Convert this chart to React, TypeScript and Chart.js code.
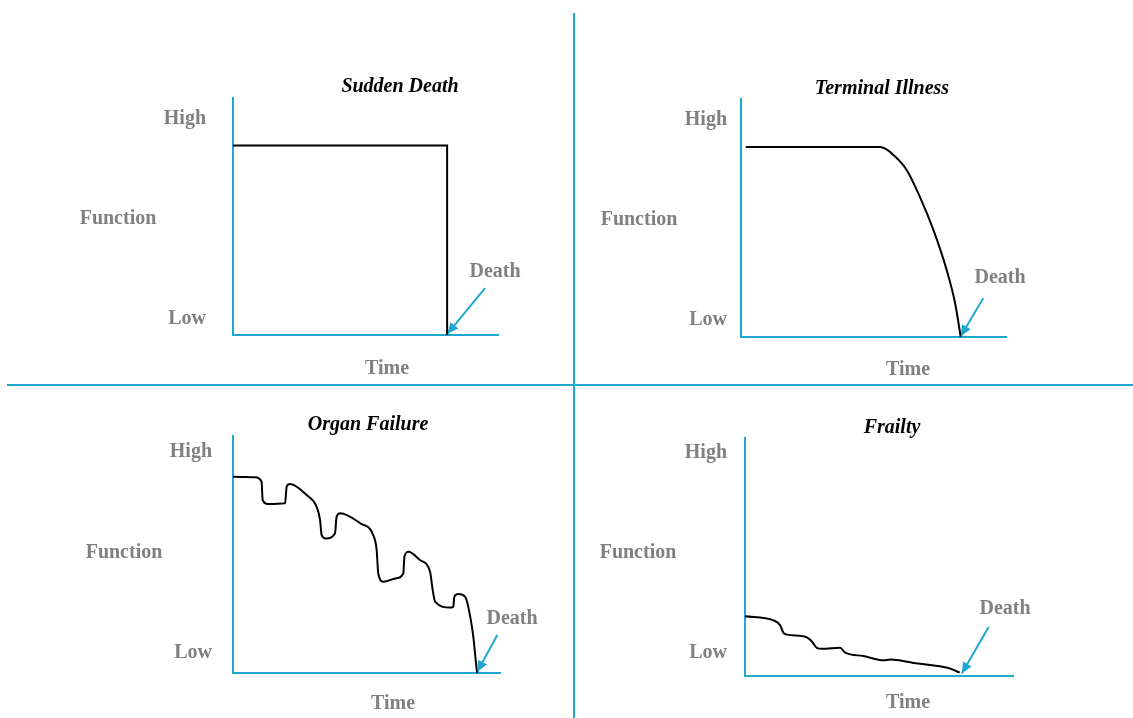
import React, { useEffect, useRef } from "react";
import { Chart, registerables } from "chart.js";

Chart.register(...registerables);

// ---- Data (x = time 0..100, y = function 0..100) ----
const suddenTime = [0, 80.8, 80.8];
const suddenFunction = [80, 80, 0];

const terminalTime = [1.8, 52.5, 54.6, 57.5, 62.5, 67.5, 72.6, 77.6, 80.8, 82.9];
const terminalFunction = [79.8, 79.8, 79.0, 76.5, 70.2, 58.9, 45.0, 28.2, 14.2, 0.1];

const organTime = [0, 8.2, 10.7, 11.1, 13.1, 19.5, 20.1, 21.3, 27.6, 31.3, 32.6, 33.2, 34.8, 38.2, 38.8, 40.1, 47.6, 52.5, 53.8, 54.4, 56.3, 61.3, 63.8, 64.2, 65.7, 70.0, 73.8, 74.8, 75.7, 81.3, 82.5, 82.9, 84.4, 86.9, 88.1, 90.0, 91.3, 91.5];
const organFunction = [82.8, 82.6, 80.7, 73.0, 71.3, 71.6, 78.6, 79.7, 75.1, 70.2, 64.6, 58.2, 56.8, 58.9, 65.9, 67.4, 63.2, 58.2, 51.9, 42.1, 38.5, 40.0, 42.1, 49.1, 51.2, 47.7, 42.7, 35.0, 30.1, 27.6, 28.0, 32.2, 33.3, 32.2, 28.0, 15.3, 1.3, 0];

const frailtyTime = [0, 10.6, 13.1, 14.3, 15.3, 23.0, 24.9, 26.8, 28.8, 35.5, 37.4, 44.2, 51.7, 54.2, 62.9, 74.1, 76.6, 80.1];
const frailtyFunction = [25.1, 23.4, 21.3, 18.2, 17.5, 16.3, 14.6, 11.8, 11.4, 11.9, 9.8, 8.4, 6.6, 6.9, 5.5, 3.8, 3.1, 1.4];

// Death arrows: [start, end]
const suddenArrowTime = [95.1, 80.9];
const suddenArrowFunction = [19.8, 0.5];
const terminalArrowTime = [91.4, 82.9];
const terminalArrowFunction = [16.3, 0.3];
const organArrowTime = [99.0, 91.5];
const organArrowFunction = [16.0, 0.5];
const frailtyArrowTime = [90.9, 80.9];
const frailtyArrowFunction = [20.6, 1.0];

const titles = ["Sudden Death", "Terminal Illness", "Organ Failure", "Frailty"];
const axisLabels = { high: "High", low: "Low", y: "Function", x: "Time", death: "Death" };

// ---- Layout / style ----
const W = 1133;
const H = 718;
const TEAL = "#1FA8CF";
const GRAY = "#808080";
const TEXT_DY = 2;

type Cfg = {
  title: string;
  xs: number[];
  ys: number[];
  ax: number[];
  ay: number[];
  monotone: boolean;
  area: { left: number; top: number; right: number; bottom: number };
  titlePos: [number, number];
  highPos: [number, number];
  lowPos: [number, number];
  funcPos: [number, number];
  timePos: [number, number];
  deathPos: [number, number];
};

const panels: Cfg[] = [
  {
    title: titles[0], xs: suddenTime, ys: suddenFunction, ax: suddenArrowTime, ay: suddenArrowFunction, monotone: false,
    area: { left: 233, top: 98, right: 498, bottom: 335 },
    titlePos: [400, 85], highPos: [206, 117], lowPos: [206, 317], funcPos: [118, 217], timePos: [387, 367], deathPos: [495, 270],
  },
  {
    title: titles[1], xs: terminalTime, ys: terminalFunction, ax: terminalArrowTime, ay: terminalArrowFunction, monotone: true,
    area: { left: 741, top: 99, right: 1006, bottom: 337 },
    titlePos: [882, 87], highPos: [727, 118], lowPos: [727, 318], funcPos: [639, 218], timePos: [908, 368], deathPos: [1000, 276],
  },
  {
    title: titles[2], xs: organTime, ys: organFunction, ax: organArrowTime, ay: organArrowFunction, monotone: true,
    area: { left: 233, top: 436, right: 500, bottom: 673 },
    titlePos: [368, 423], highPos: [212, 450], lowPos: [212, 651], funcPos: [124, 551], timePos: [393, 702], deathPos: [512, 617],
  },
  {
    title: titles[3], xs: frailtyTime, ys: frailtyFunction, ax: frailtyArrowTime, ay: frailtyArrowFunction, monotone: true,
    area: { left: 745, top: 438, right: 1013, bottom: 676 },
    titlePos: [892, 426], highPos: [727, 451], lowPos: [727, 651], funcPos: [638, 551], timePos: [908, 701], deathPos: [1005, 607],
  },
];

function Panel({ cfg }: { cfg: Cfg }) {
  const ref = useRef<HTMLCanvasElement>(null);
  useEffect(() => {
    if (!ref.current) return;
    const labelsPlugin = {
      id: "panelLabels",
      afterDraw(chart: any) {
        const ctx = chart.ctx as CanvasRenderingContext2D;
        ctx.save();
        ctx.textBaseline = "middle";
        ctx.font = 'italic bold 20px "Liberation Serif"';
        ctx.fillStyle = "#000";
        ctx.textAlign = "center";
        ctx.fillText(cfg.title, cfg.titlePos[0], cfg.titlePos[1] + TEXT_DY);
        ctx.font = 'bold 20px "Liberation Serif"';
        ctx.fillStyle = GRAY;
        ctx.textAlign = "right";
        ctx.fillText(axisLabels.high, cfg.highPos[0], cfg.highPos[1] + TEXT_DY);
        ctx.fillText(axisLabels.low, cfg.lowPos[0], cfg.lowPos[1] + TEXT_DY);
        ctx.textAlign = "center";
        ctx.fillText(axisLabels.y, cfg.funcPos[0], cfg.funcPos[1] + TEXT_DY);
        ctx.fillText(axisLabels.x, cfg.timePos[0], cfg.timePos[1] + TEXT_DY);
        ctx.fillText(axisLabels.death, cfg.deathPos[0], cfg.deathPos[1] + TEXT_DY);
        // arrowhead
        const pts = chart.getDatasetMeta(1).data;
        if (pts.length >= 2) {
          const p0 = pts[0];
          const p1 = pts[pts.length - 1];
          const ang = Math.atan2(p1.y - p0.y, p1.x - p0.x);
          const len = 11;
          const half = 5;
          ctx.fillStyle = TEAL;
          ctx.beginPath();
          ctx.moveTo(p1.x, p1.y);
          ctx.lineTo(
            p1.x - len * Math.cos(ang) + half * Math.sin(ang),
            p1.y - len * Math.sin(ang) - half * Math.cos(ang)
          );
          ctx.lineTo(
            p1.x - len * Math.cos(ang) - half * Math.sin(ang),
            p1.y - len * Math.sin(ang) + half * Math.cos(ang)
          );
          ctx.closePath();
          ctx.fill();
        }
        ctx.restore();
      },
    };
    const chart = new Chart(ref.current, {
      type: "line",
      data: {
        datasets: [
          {
            data: cfg.xs.map((x, i) => ({ x, y: cfg.ys[i] })),
            borderColor: "#000",
            borderWidth: 2,
            pointRadius: 0,
            tension: 0,
            cubicInterpolationMode: cfg.monotone ? "monotone" : "default",
            clip: false as any,
            fill: false,
          },
          {
            data: cfg.ax.map((x, i) => ({ x, y: cfg.ay[i] })),
            borderColor: TEAL,
            borderWidth: 2,
            pointRadius: 0,
            tension: 0,
            clip: false as any,
            fill: false,
          },
        ],
      },
      options: {
        responsive: false,
        animation: false,
        events: [],
        layout: {
          padding: {
            left: cfg.area.left,
            top: cfg.area.top,
            right: W - cfg.area.right,
            bottom: H - cfg.area.bottom,
          },
        },
        plugins: { legend: { display: false }, tooltip: { enabled: false }, title: { display: false } },
        scales: {
          x: {
            type: "linear",
            min: 0,
            max: 100,
            ticks: { display: false },
            grid: { display: false, drawTicks: false, tickLength: 0 },
            border: { display: true, color: TEAL, width: 2 },
          },
          y: {
            type: "linear",
            min: 0,
            max: 100,
            ticks: { display: false },
            grid: { display: false, drawTicks: false, tickLength: 0 },
            border: { display: true, color: TEAL, width: 2 },
          },
        },
      },
      plugins: [labelsPlugin],
    } as any);
    return () => chart.destroy();
  }, []);
  return (
    <canvas
      ref={ref}
      width={W}
      height={H}
      style={{ position: "absolute", left: 0, top: 0, width: W, height: H }}
    />
  );
}

export default function App() {
  return (
    <div
      style={{
        position: "absolute",
        left: 0,
        top: 0,
        width: W,
        height: H,
        background: "#fff",
        overflow: "hidden",
      }}
    >
      <div style={{ position: "absolute", left: 573, top: 13, width: 2, height: H - 13, background: TEAL }} />
      <div style={{ position: "absolute", left: 7, top: 384, width: W - 7, height: 2, background: TEAL }} />
      {panels.map((p) => (
        <Panel key={p.title} cfg={p} />
      ))}
    </div>
  );
}
